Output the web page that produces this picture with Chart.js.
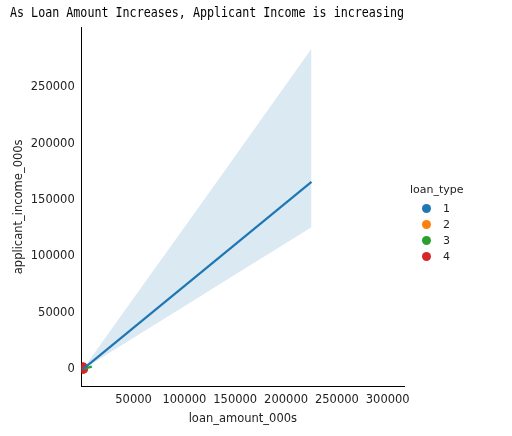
<!DOCTYPE html>
<html lang="en">
<head>
  <meta charset="UTF-8" />
  <title>Loan amount vs applicant income</title>
  <script src="https://cdn.jsdelivr.net/npm/chart.js"></script>
  <style>
    body { margin: 0; background: #fff; }
    #wrap { position: relative; width: 512px; height: 436px; }
    #legend {
      position: absolute; left: 410px; top: 183px;
      font: 11px "DejaVu Sans", sans-serif; color: #222;
    }
    #legend .row { display: flex; align-items: center; height: 16px; margin-left: 12px; }
    #legend .dot { width: 9px; height: 9px; border-radius: 50%; margin-right: 12px; }
  </style>
</head>
<body>
  <div id="wrap">
    <canvas id="myChart" width="512" height="436"></canvas>
    <div id="legend"></div>
  </div>
  <script>
    const loanTypes = ["1", "2", "3", "4"];
    const colors = ["#1f77b4", "#ff7f0e", "#2ca02c", "#d62728"];

    // regression line for loan_type 1
    const fitX = [0, 225000];
    const fitY = [0, 166000];
    // confidence band edges
    const bandX = [0, 50000, 100000, 150000, 225000];
    const bandUpper = [0, 63000, 126000, 189000, 284000];
    const bandLower = [0, 28000, 56000, 84000, 126000];
    // loan_type 3 short fit
    const fit3X = [500, 9000];
    const fit3Y = [500, 2500];
    // loan_type 4 points
    const pts4X = [200, 600, 1000, 300];
    const pts4Y = [0, 1200, 300, 2500];

    const toXY = (xs, ys) => xs.map((x, i) => ({ x, y: ys[i] }));
    const tickFont = { family: "DejaVu Sans", size: 11.5 };

    new Chart(document.getElementById("myChart"), {
      type: "scatter",
      data: {
        datasets: [
          { data: toXY(bandX, bandLower), showLine: true, borderWidth: 0, pointRadius: 0,
            borderColor: "rgba(0,0,0,0)" },
          { data: toXY(bandX, bandUpper), showLine: true, borderWidth: 0, pointRadius: 0,
            borderColor: "rgba(0,0,0,0)", fill: "-1", backgroundColor: "rgba(31,119,180,0.16)" },
          { data: toXY(fitX, fitY), showLine: true, borderWidth: 2.2, pointRadius: 0,
            borderColor: colors[0] },
          { data: toXY(fit3X, fit3Y), showLine: true, borderWidth: 2.2, pointRadius: 0,
            borderColor: colors[2] },
          { data: toXY(pts4X, pts4Y), pointRadius: 4, backgroundColor: colors[3],
            borderColor: colors[3] },
        ],
      },
      options: {
        responsive: false,
        animation: false,
        layout: { padding: { right: 108, top: 0, bottom: 8, left: 10 } },
        plugins: {
          legend: { display: false },
          tooltip: { enabled: false },
          title: {
            display: true,
            text: "As Loan Amount Increases, Applicant Income is increasing",
            font: { family: "DejaVu Sans Mono", size: 13.5, weight: "normal" },
            color: "#000",
            padding: { top: 5, bottom: 6 },
          },
        },
        scales: {
          x: {
            type: "linear", min: -1000, max: 316000,
            grid: { display: false, tickLength: 4 },
            border: { color: "#000" },
            ticks: { font: tickFont, color: "#222", callback: (v) => String(v) },
            afterBuildTicks: (ax) => { ax.ticks = [50000,100000,150000,200000,250000,300000].map(v => ({ value: v })); },
            title: { display: true, text: "loan_amount_000s", font: tickFont, color: "#222", padding: 2 },
          },
          y: {
            type: "linear", min: -15000, max: 303000,
            grid: { display: false, tickLength: 4 },
            border: { color: "#000" },
            afterBuildTicks: (ax) => { ax.ticks = [0,50000,100000,150000,200000,250000].map(v => ({ value: v })); },
            ticks: { font: tickFont, color: "#222", callback: (v) => String(v) },
            title: { display: true, text: "applicant_income_000s", font: tickFont, color: "#222", padding: 2 },
          },
        },
      },
    });

    const legend = document.getElementById("legend");
    legend.innerHTML = '<div style="margin-bottom:4px">loan_type</div>' +
      loanTypes.map((t, i) =>
        `<div class="row"><span class="dot" style="background:${colors[i]}"></span>${t}</div>`
      ).join("");
  </script>
</body>
</html>
